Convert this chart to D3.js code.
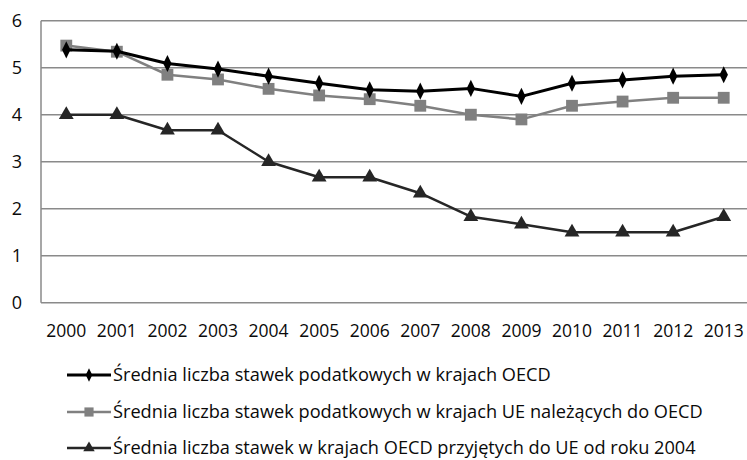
<!DOCTYPE html>
<html>
<head>
<meta charset="utf-8">
<script src="https://cdn.jsdelivr.net/npm/d3@7"></script>
<style>
  body { margin: 0; background: #fff; }
  text { font-family: "Open Sans", sans-serif; fill: #0a0a0a; }
</style>
</head>
<body>
<div id="chart"></div>
<script>
// years on the x axis
var years = ["2000","2001","2002","2003","2004","2005","2006","2007","2008","2009","2010","2011","2012","2013"];
// average number of tax rates, OECD
var oecd = [5.38,5.35,5.09,4.97,4.82,4.67,4.53,4.50,4.56,4.39,4.67,4.74,4.82,4.85];
// EU members of OECD
var euOecd = [5.47,5.34,4.85,4.75,4.55,4.41,4.33,4.19,4.00,3.90,4.19,4.28,4.36,4.36];
// OECD countries that joined EU in 2004
var newEu = [4.00,4.00,3.67,3.67,3.00,2.67,2.67,2.33,1.83,1.67,1.50,1.50,1.50,1.83];
var yTicks = [0,1,2,3,4,5,6];
var seriesNames = [
  "Średnia liczba stawek podatkowych w krajach OECD",
  "Średnia liczba stawek podatkowych w krajach UE należących do OECD",
  "Średnia liczba stawek w krajach OECD przyjętych do UE od roku 2004"
];

var width = 747, height = 460;
var margin = {top: 20.7, right: -2, bottom: 157.3, left: 41};

var svg = d3.select("#chart").append("svg")
    .attr("width", width)
    .attr("height", height);

var xScale = d3.scaleBand()
    .domain(years)
    .range([margin.left, width - margin.right]);

var yScale = d3.scaleLinear()
    .domain([0, 6])
    .range([height - margin.bottom, margin.top]);

// gridlines
svg.append("g")
    .selectAll("line")
    .data(yTicks.filter(function(d){ return d > 0; }))
    .enter().append("line")
    .attr("x1", margin.left)
    .attr("x2", width)
    .attr("y1", function(d){ return yScale(d); })
    .attr("y2", function(d){ return yScale(d); })
    .attr("stroke", "#8a8a8a")
    .attr("stroke-width", 1.5);

// axis lines
svg.append("line")
    .attr("x1", margin.left).attr("x2", margin.left)
    .attr("y1", yScale(6)).attr("y2", yScale(0))
    .attr("stroke", "#8a8a8a").attr("stroke-width", 1.5);
svg.append("line")
    .attr("x1", margin.left).attr("x2", width)
    .attr("y1", yScale(0)).attr("y2", yScale(0))
    .attr("stroke", "#8a8a8a").attr("stroke-width", 1.5);

// y tick labels
svg.append("g")
    .selectAll("text")
    .data(yTicks)
    .enter().append("text")
    .attr("x", 22)
    .attr("y", function(d){ return yScale(d); })
    .attr("dy", "0.35em")
    .attr("text-anchor", "end")
    .style("font-size", "18px")
    .text(function(d){ return d; });

// x tick labels
svg.append("g")
    .selectAll("text")
    .data(years)
    .enter().append("text")
    .attr("x", function(d){ return xScale(d) + xScale.bandwidth()/2; })
    .attr("y", 337)
    .attr("text-anchor", "middle")
    .style("font-size", "17.5px")
    .text(function(d){ return d; });

var series = [
  {name: seriesNames[0], values: oecd, color: "#000000", width: 3, symbol: d3.symbolDiamond, size: 85},
  {name: seriesNames[1], values: euOecd, color: "#808080", width: 2.5, symbol: d3.symbolSquare, size: 140},
  {name: seriesNames[2], values: newEu, color: "#262626", width: 2.5, symbol: d3.symbolTriangle, size: 95}
];

var line = d3.line()
    .x(function(d, i){ return xScale(years[i]) + xScale.bandwidth()/2; })
    .y(function(d){ return yScale(d); });

// draw bottom series first so the black line stays on top
series.slice().reverse().forEach(function(s){
  var g = svg.append("g");
  g.append("path")
      .datum(s.values)
      .attr("d", line)
      .attr("fill", "none")
      .attr("stroke", s.color)
      .attr("stroke-width", s.width)
      .attr("stroke-linejoin", "round");
  g.selectAll("path.marker")
      .data(s.values)
      .enter().append("path")
      .attr("class", "marker")
      .attr("transform", function(d, i){
        return "translate(" + (xScale(years[i]) + xScale.bandwidth()/2) + "," + yScale(d) + ")" + (s.symbol === d3.symbolDiamond ? " scale(0.85,1)" : "");
      })
      .attr("d", d3.symbol().type(s.symbol).size(s.size))
      .attr("fill", s.color);
});

// legend
var legendY = [375, 412, 448];
var legend = svg.append("g");
series.forEach(function(s, i){
  var row = legend.append("g").attr("transform", "translate(0," + legendY[i] + ")");
  row.append("line")
      .attr("x1", 67).attr("x2", 111)
      .attr("y1", 0).attr("y2", 0)
      .attr("stroke", s.color)
      .attr("stroke-width", s.width);
  row.append("path")
      .attr("transform", "translate(89,0)" + (s.symbol === d3.symbolDiamond ? " scale(0.85,1)" : ""))
      .attr("d", d3.symbol().type(s.symbol).size(s.size * 0.6))
      .attr("fill", s.color);
  row.append("text")
      .attr("x", 113)
      .attr("y", 0)
      .attr("dy", "0.35em")
      .style("font-size", "18.2px")
      .text(s.name);
});
</script>
</body>
</html>
